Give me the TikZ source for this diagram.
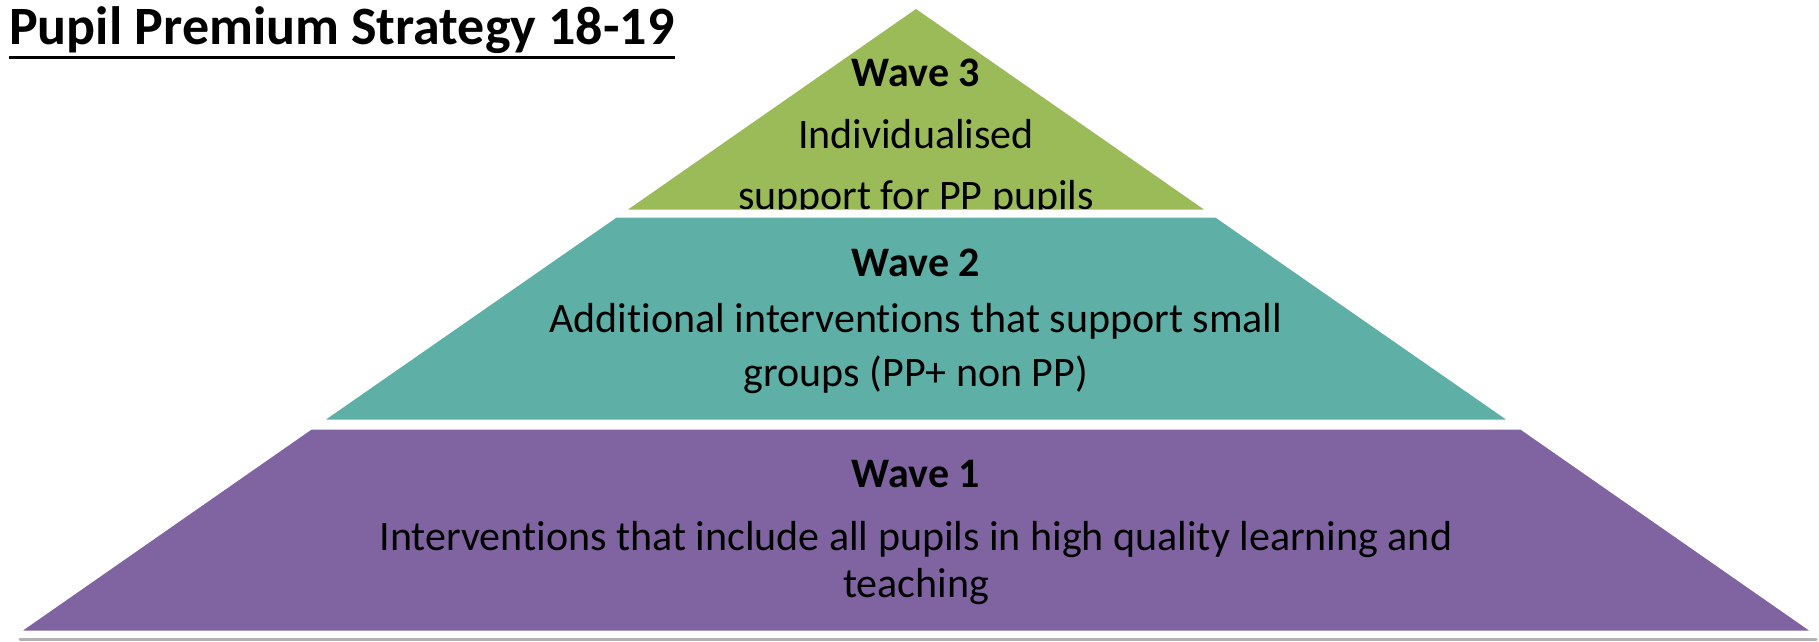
\documentclass[tikz,border=0pt]{standalone}
\usepackage{fontspec}
\setmainfont{Carlito}[Ligatures=NoCommon]
\definecolor{wavegreen}{RGB}{155,187,89}
\definecolor{waveteal}{RGB}{94,175,165}
\definecolor{wavepurple}{RGB}{128,100,162}
\tikzset{
  tier/.style={draw=white,line width=3pt,line join=miter},
  head/.style={font=\fontsize{42}{48}\selectfont\bfseries,anchor=base,inner sep=0pt},
  body/.style={font=\fontsize{42}{51}\selectfont,anchor=base,inner sep=0pt,align=center},
}
\begin{document}
\begin{tikzpicture}[x=1pt,y=-1pt]
	\useasboundingbox (0,0) rectangle (1819,641);
	% shadow under the base
	\draw[line width=3pt,black!30,line cap=round](20,639)--(1816,639);
	% three tiers, cut from one triangle
	\fill[wavepurple,tier](311,428)--(1521,428)--(1814,632)--(18,632)--cycle;
	\fill[waveteal,tier](616,216)--(1216,216)--(1511,421)--(321,421)--cycle;
	\begin{scope}
		\clip(916,7)--(1209,211)--(623,211)--cycle;
		\fill[wavegreen](916,7)--(1209,211)--(623,211)--cycle;
		\node[head](w3head) at (916,86){Wave 3};
		\node[body,font=\fontsize{42}{61}\selectfont](w3text) at (916,209){Individualised\\support for PP pupils};
	\end{scope}
	\draw[white,line width=3pt](916,7)--(1209,211)--(623,211)--cycle;
	\node[head](w2head) at (916,276){Wave 2};
	\node[body,font=\fontsize{42}{54}\selectfont](w2text) at (916,386){Additional interventions that support small\\groups (PP+ non PP)};
	\node[head](w1head) at (916,487){Wave 1};
	\node[body,font=\fontsize{42}{47}\selectfont](w1text) at (916,597){Interventions that include all pupils in high quality learning and\\teaching};
	% title
	\node[font=\fontsize{54}{60}\selectfont\bfseries,anchor=base west,inner sep=0pt](title) at (9,44){Pupil Premium Strategy 18-19};
	\draw[line width=3pt]([yshift=-13pt]title.base west)--([yshift=-13pt]title.base east);
\end{tikzpicture}
\end{document}
